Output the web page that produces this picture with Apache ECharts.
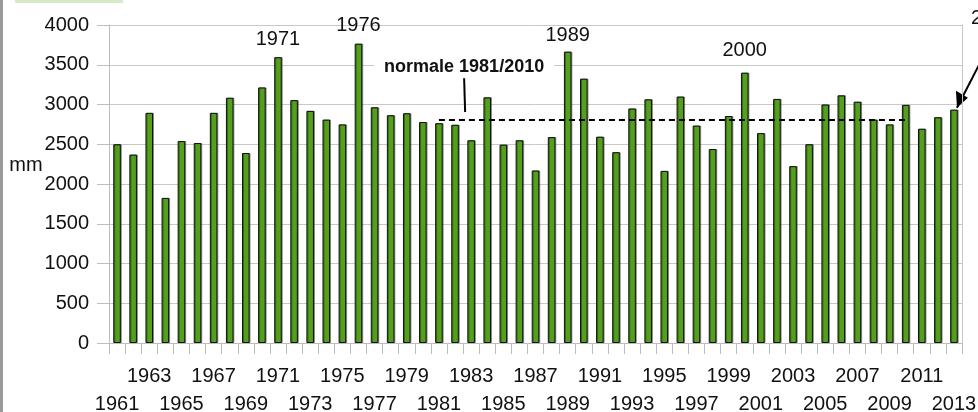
<!DOCTYPE html>
<html>
<head>
<meta charset="utf-8">
<script src="https://cdn.jsdelivr.net/npm/echarts@6/dist/echarts.min.js"></script>
<style>
html,body{margin:0;padding:0;background:#fff;}
#c{width:978px;height:412px;}
</style>
</head>
<body>
<div id="c"></div>
<script>
var years = [];
for (var y = 1961; y <= 2013; y++) years.push(String(y));
var rainfall = [2500, 2370, 2895, 1825, 2540, 2515, 2895, 3085, 2390, 3215,
  3595, 3055, 2920, 2810, 2750, 3765, 2965, 2865, 2890, 2780,
  2765, 2745, 2550, 3090, 2495, 2550, 2170, 2590, 3665, 3325,
  2595, 2400, 2950, 3065, 2165, 3100, 2735, 2440, 2855, 3400,
  2640, 3070, 2225, 2500, 3000, 3115, 3035, 2810, 2750, 2995,
  2695, 2840, 2935];
var labelledYears = {'1971': 8, '1976': 8, '1989': 6, '2000': 12};
var normalValue = 2810;
var normalStart = '1981', normalEnd = '2010';
var yTicks = [0, 500, 1000, 1500, 2000, 2500, 3000, 3500, 4000];

var FONT = '"Liberation Sans", Arial, sans-serif';
var chart = echarts.init(document.getElementById('c'), null, {renderer: 'canvas'});

var barData = rainfall.map(function (v, i) {
  var yr = years[i];
  if (labelledYears[yr] !== undefined) {
    return {value: v, label: {show: true, position: 'top', distance: labelledYears[yr],
      formatter: '{b}', fontSize: 20, color: '#111', fontFamily: FONT}};
  }
  return v;
});

var option = {
  animation: false,
  backgroundColor: '#fff',
  grid: {left: 109, right: 16, top: 25, bottom: 69, containLabel: false, outerBoundsMode: 'none'},
  xAxis: {
    type: 'category',
    data: years,
    boundaryGap: true,
    axisLine: {lineStyle: {color: '#bdbdbd', width: 1}},
    axisTick: {show: true, interval: 0, length: 11, lineStyle: {color: '#bdbdbd'}},
    axisLabel: {
      interval: 0, margin: 19, hideOverlap: false,
      fontSize: 20, color: '#111', fontFamily: FONT, lineHeight: 28,
      formatter: function (val, idx) {
        if (idx % 2 !== 0) return '';
        return (idx % 4 === 0) ? '\n' + val : val;
      }
    }
  },
  yAxis: [{
    type: 'value',
    min: yTicks[0], max: yTicks[yTicks.length - 1], interval: 500,
    axisLine: {show: true, lineStyle: {color: '#bdbdbd'}},
    axisTick: {show: true, length: 12, lineStyle: {color: '#bdbdbd'}},
    axisLabel: {margin: 20, fontSize: 20, color: '#111', fontFamily: FONT,
      formatter: function (v) { return String(v); }},
    splitLine: {lineStyle: {color: '#c8c8c8', width: 1}}
  }, {
    type: 'value', position: 'right',
    min: yTicks[0], max: yTicks[yTicks.length - 1], interval: 500,
    axisLine: {show: true, lineStyle: {color: '#c8c8c8'}},
    axisTick: {show: false}, axisLabel: {show: false}, splitLine: {show: false}
  }],
  series: [{
    type: 'bar',
    data: barData,
    barWidth: '47%',
    itemStyle: {color: '#53a01c', borderColor: '#111', borderWidth: 1,
      shadowColor: 'rgba(0,0,0,0.35)', shadowOffsetX: 1, shadowOffsetY: 0, shadowBlur: 0},
    markLine: {
      silent: true, symbol: 'none',
      label: {show: false},
      lineStyle: {color: '#000', type: [6, 4], width: 2},
      data: [[{coord: [normalStart, normalValue]}, {coord: [normalEnd, normalValue]}]]
    }
  }]
};
chart.setOption(option);

// annotations positioned through the chart's own scales
var pText = chart.convertToPixel({gridIndex: 0}, [22, 3475]);
var pLineTop = chart.convertToPixel({gridIndex: 0}, [22, 3330]);
var pLineBot = chart.convertToPixel({gridIndex: 0}, [22, normalValue + 95]);
var pLast = chart.convertToPixel({gridIndex: 0}, [years.length - 1, rainfall[rainfall.length - 1]]);
var xShift = -7;
chart.setOption({
  graphic: [
    {type: 'rect', left: 0, top: 0, shape: {width: 3, height: 412}, style: {fill: '#9a9a9a'}},
    {type: 'rect', left: 15, top: 0, shape: {width: 108, height: 3}, style: {fill: '#d6e9c9'}},
    {type: 'text', x: 26, y: 165, style: {text: 'mm', fontSize: 20, fontFamily: FONT, fill: '#111',
      align: 'center', verticalAlign: 'middle'}},
    {type: 'text', x: pText[0] + xShift, y: pText[1], style: {
      text: 'normale 1981/2010', fontSize: 18, fontWeight: 'bold', fontFamily: FONT,
      fill: '#111', align: 'center', verticalAlign: 'middle',
      backgroundColor: '#fff', padding: [3, 10, 3, 10]}},
    {type: 'line', shape: {x1: pLineTop[0] + xShift, y1: pLineTop[1], x2: pLineBot[0] + xShift + 1, y2: pLineBot[1]},
      style: {stroke: '#000', lineWidth: 2}},
    {type: 'line', shape: {x1: 980, y1: 63, x2: pLast[0] + 3, y2: pLast[1] - 2},
      style: {stroke: '#000', lineWidth: 2}},
    {type: 'polygon', shape: {points: [[pLast[0] + 3, pLast[1] - 2], [pLast[0] + 2, pLast[1] - 19], [pLast[0] + 14, pLast[1] - 12]]},
      style: {fill: '#000'}},
    {type: 'text', x: 971, y: 18, style: {text: '2013', fontSize: 20, fontFamily: FONT, fill: '#111',
      align: 'left', verticalAlign: 'middle'}}
  ]
});
</script>
</body>
</html>
